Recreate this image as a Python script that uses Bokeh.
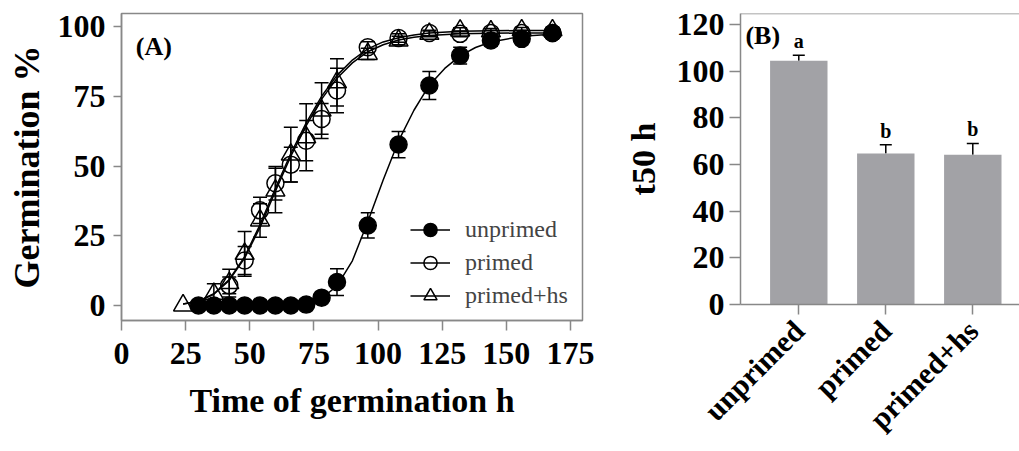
import math
from bokeh.plotting import figure
from bokeh.models import (ColumnDataSource, Whisker, TeeHead, Legend, LegendItem,
                          FixedTicker, Range1d, Label, Span)
from bokeh.layouts import row, column
from bokeh.embed import file_html
from bokeh.resources import INLINE
from bokeh.core.properties import value

FONT = "Liberation Serif"
GRAY = "#888888"

# ---------------- Panel A data ----------------
times_unprimed = [30, 36, 42, 48, 54, 60, 66, 72, 78, 84, 96, 108, 120, 132, 144, 156, 168]
unprimed = [0, 0, 0, 0, 0, 0, 0, 0.3, 2.8, 8.4, 28.7, 57.7, 78.9, 89.6, 95.0, 95.6, 97.7]
err_unprimed = [0, 0, 0, 0, 0, 0, 0, 0, 1.0, 4.8, 4.5, 4.7, 5.0, 3.0, 2.0, 1.5, 1.2]

times_primed = [42, 48, 54, 60, 66, 72, 78, 84, 96, 108, 120, 132, 144, 156, 168]
primed = [7.2, 16.1, 34.1, 43.8, 50.5, 59.1, 66.9, 77.1, 92.6, 95.9, 97.7, 97.4, 97.7, 97.7, 97.7]
err_primed = [3.0, 5.0, 4.7, 6.0, 6.2, 7.2, 5.5, 8.0, 2.0, 1.5, 1.0, 1.0, 1.0, 1.0, 1.0]

times_hs = [24, 36, 42, 48, 54, 60, 66, 72, 78, 84, 96, 108, 120, 132, 144, 156, 168]
primed_hs = [0, 4.2, 8.0, 18.5, 30.5, 41.2, 54.1, 60.3, 69.9, 80.0, 90.2, 95.0, 97.4, 98.6, 98.3, 98.7, 98.7]
err_hs = [0, 3.6, 5.0, 8.0, 6.0, 8.0, 9.8, 12.0, 10.0, 8.5, 2.0, 1.5, 1.0, 1.0, 1.0, 1.0, 1.0]

# fitted curves
fit_x_primed = [24, 30, 36, 42, 48, 54, 60, 66, 72, 78, 84, 90, 96, 102, 108, 114, 120, 132, 144, 156, 168]
fit_primed = [0.5, 1.5, 4.0, 9.0, 17.0, 28.0, 41.0, 53.5, 64.5, 74.0, 81.5, 87.0, 91.0, 93.5, 95.2,
              96.2, 96.8, 97.4, 97.6, 97.7, 97.7]
fit_hs = [0.5, 1.5, 4.2, 9.3, 17.5, 29.0, 42.0, 54.5, 65.5, 75.0, 82.5, 88.0, 92.0, 94.5, 96.0,
          97.0, 97.7, 98.3, 98.5, 98.6, 98.6]
fit_x_unprimed = [30, 42, 54, 66, 72, 78, 84, 90, 96, 102, 108, 114, 120, 126, 132, 138, 144, 156, 168]
fit_unprimed = [0, 0, 0.1, 0.5, 1.0, 2.5, 7.0, 16.0, 30.0, 45.0, 59.0, 70.0, 79.0, 85.0, 89.5, 92.5,
                94.5, 96.5, 97.3]

x_ticks_A = [0, 25, 50, 75, 100, 125, 150, 175]
y_ticks_A = [0, 25, 50, 75, 100]

# ---------------- Panel B data ----------------
treatments = ["unprimed", "primed", "primed+hs"]
t50 = [104.5, 64.7, 64.2]
t50_err = [2.3, 3.8, 4.8]
letters = ["a", "b", "b"]
y_ticks_B = [0, 20, 40, 60, 80, 100, 120]


def style_axis(ax, tick_out=8):
    ax.axis_line_color = GRAY
    ax.axis_line_width = 1.5
    ax.major_tick_line_color = GRAY
    ax.major_tick_line_width = 1.5
    ax.minor_tick_line_color = None
    ax.major_tick_in = 0
    ax.major_tick_out = tick_out
    ax.major_label_text_font = FONT
    ax.major_label_text_font_style = "bold"
    ax.major_label_text_font_size = "32px"
    ax.major_label_text_color = "black"
    ax.axis_label_text_font = FONT
    ax.axis_label_text_font_style = "bold"
    ax.axis_label_text_font_size = "34px"
    ax.axis_label_text_color = "black"


# ================= Panel A =================
pA = figure(width=600, height=451, output_backend="svg", toolbar_location=None,
            x_range=Range1d(0, 179.7), y_range=Range1d(-5.4, 104.7),
            min_border_left=121, min_border_right=18, min_border_top=13, min_border_bottom=131)
pA.xgrid.visible = False
pA.ygrid.visible = False
pA.outline_line_color = GRAY
pA.outline_line_width = 1.5
style_axis(pA.xaxis[0], 10)
style_axis(pA.yaxis[0], 8)
pA.xaxis.ticker = FixedTicker(ticks=x_ticks_A)
pA.yaxis.ticker = FixedTicker(ticks=y_ticks_A)
pA.xaxis.axis_label = "Time of germination h"
pA.yaxis.axis_label = "Germination %"
pA.yaxis.axis_label_text_font_size = "36px"
pA.xaxis.major_label_standoff = 12
pA.yaxis.major_label_standoff = 8
pA.xaxis.axis_label_standoff = 15
pA.yaxis.axis_label_standoff = 8

l_u = pA.line(fit_x_unprimed, fit_unprimed, line_color="black", line_width=1.5)
l_p = pA.line(fit_x_primed, fit_primed, line_color="black", line_width=1.5)
l_h = pA.line(fit_x_primed, fit_hs, line_color="black", line_width=1.5)


def add_err(p, xs, ys, es, head):
    sel = [i for i in range(len(xs)) if es[i] > 0]
    src = ColumnDataSource(dict(x=[xs[i] for i in sel],
                                lo=[ys[i] - es[i] for i in sel],
                                hi=[ys[i] + es[i] for i in sel]))
    w = Whisker(source=src, base="x", lower="lo", upper="hi", line_color="black", line_width=1.5,
                upper_head=TeeHead(size=head, line_color="black", line_width=1.5),
                lower_head=TeeHead(size=head, line_color="black", line_width=1.5))
    p.add_layout(w)


add_err(pA, times_unprimed, unprimed, err_unprimed, 14)
add_err(pA, times_primed, primed, err_primed, 14)
add_err(pA, times_hs, primed_hs, err_hs, 14)

s_u = pA.scatter(times_unprimed, unprimed, marker="circle", size=17, fill_color="black",
                 line_color="black", line_width=1.5)
s_p = pA.scatter(times_primed, primed, marker="circle", size=17, fill_color=None,
                 line_color="black", line_width=1.5)
s_h = pA.scatter(times_hs, primed_hs, marker="triangle", size=19, fill_color=None,
                 line_color="black", line_width=1.5)

legend = Legend(items=[LegendItem(label="unprimed", renderers=[l_u, s_u]),
                       LegendItem(label="primed", renderers=[l_p, s_p]),
                       LegendItem(label="primed+hs", renderers=[l_h, s_h])],
                location=(289, 8), glyph_width=40, glyph_height=33, spacing=0,
                padding=0, margin=0, label_standoff=15, label_height=33,
                label_text_font=FONT, label_text_font_size="24px",
                border_line_color=None, background_fill_alpha=0)
pA.add_layout(legend)

pA.add_layout(Label(x=5.6, y=93.0, text="(A)", text_font=FONT, text_font_style="bold",
                    text_font_size="26px", text_baseline="middle", text_color="black"))

# ================= Panel B =================
xs = [i + 1 for i in range(len(treatments))]
pB = figure(width=419, height=451, output_backend="svg", toolbar_location=None,
            x_range=Range1d(0.33, 0.33 + 279 / 87), y_range=Range1d(0, 124.7),
            min_border_left=140, min_border_right=0, min_border_top=13, min_border_bottom=147)
pB.xgrid.visible = False
pB.ygrid.visible = False
pB.outline_line_color = None
style_axis(pB.xaxis[0], 10)
style_axis(pB.yaxis[0], 11)
pB.yaxis.ticker = FixedTicker(ticks=y_ticks_B)
pB.xaxis.ticker = FixedTicker(ticks=xs)
pB.xaxis.major_label_overrides = {x: t for x, t in zip(xs, treatments)}
pB.xaxis.major_label_orientation = math.pi / 4
pB.xaxis.major_label_text_font_size = "30px"
pB.xaxis.major_label_standoff = 11
pB.yaxis.axis_label = "t50 h"
pB.yaxis.major_label_standoff = 5
pB.yaxis.axis_label_standoff = 12
pB.add_layout(Span(location=124.7, dimension="width", line_color=GRAY, line_width=1.5))

pB.vbar(x=xs, top=t50, width=0.66, fill_color="#a2a2a6", line_color=None)
srcB = ColumnDataSource(dict(x=xs, lo=t50, hi=[t + e for t, e in zip(t50, t50_err)], txt=letters))
pB.add_layout(Whisker(source=srcB, base="x", lower="lo", upper="hi", line_color="black",
                      line_width=1.5, lower_head=None,
                      upper_head=TeeHead(size=12, line_color="black", line_width=1.5)))
pB.text(x="x", y="hi", text="txt", source=srcB, text_font=value(FONT), text_font_style="bold",
        text_font_size="20px", text_align="center", text_baseline="alphabetic", y_offset=-14)
pB.add_layout(Label(x=0.387, y=115.4, text="(B)", text_font=FONT, text_font_style="bold",
                    text_font_size="26px", text_baseline="middle", text_color="black"))

layout = row(column(pA), column(pB))
open("out.html", "w").write(file_html(layout, INLINE))
